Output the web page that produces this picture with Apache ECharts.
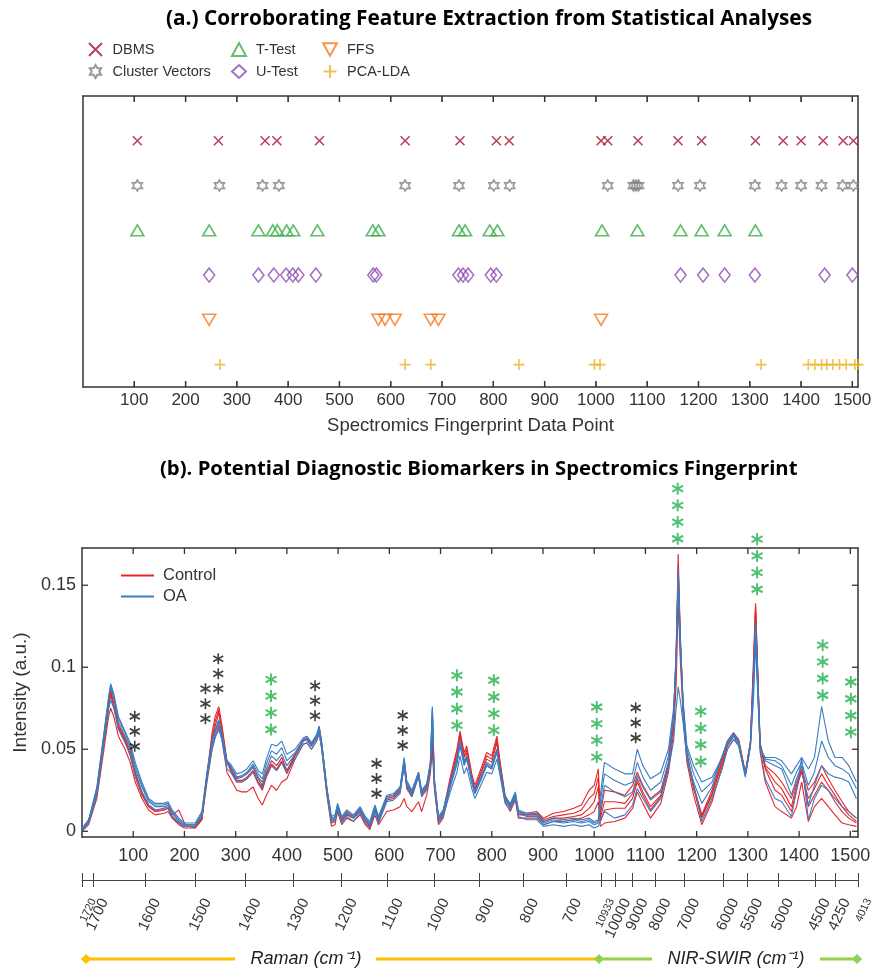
<!DOCTYPE html>
<html>
<head>
<meta charset="utf-8">
<script src="https://cdn.jsdelivr.net/npm/echarts@6/dist/echarts.min.js"></script>
<style>
  html, body { margin: 0; background: #fff; }
  #chart { width: 875px; height: 972px; }
</style>
</head>
<body>
<div id="chart"></div>
<script>
// ---- (a.) selected feature positions, one list per method ----
var dbmsX    = [106, 264, 355, 378, 461, 628, 735, 806, 831, 1010, 1023, 1082, 1160, 1206, 1311, 1365, 1400, 1443, 1482, 1502];
var clusterX = [106, 266, 350, 382, 628, 733, 801, 832, 1023, 1073, 1078, 1083, 1160, 1203, 1310, 1362, 1400, 1440, 1481, 1502];
var tTestX   = [106, 246, 342, 370, 379, 397, 410, 457, 565, 576, 733, 745, 793, 808, 1012, 1081, 1165, 1206, 1251, 1311];
var uTestX   = [246, 342, 372, 396, 409, 420, 454, 566, 572, 732, 741, 751, 795, 806, 1165, 1209, 1251, 1310, 1446, 1500];
var ffsX     = [246, 576, 589, 608, 678, 693, 1010];
var pcaX     = [267, 628, 678, 850, 997, 1008, 1322, 1414, 1427, 1440, 1450, 1462, 1475, 1488, 1505, 1511];

// ---- (b.) spectra, intensity in 1e-3 a.u. ----
var specX = [
  0, 13, 29, 42, 52, 56, 62, 71, 84, 94,
  104, 117, 130, 143, 160, 168, 176, 189, 200, 208,
  221, 234, 244, 254, 260, 267, 273, 283, 290, 302,
  312, 322, 334, 344, 352, 360, 370, 380, 390, 400,
  416, 432, 439, 448, 458, 463, 468, 478, 487, 494,
  499, 507, 517, 530, 543, 553, 562, 572, 579, 595,
  608, 621, 629, 634, 644, 657, 663, 673, 680, 684,
  688, 696, 705, 719, 732, 738, 746, 751, 761, 767,
  780, 790, 800, 810, 816, 826, 836, 846, 852, 868,
  888, 901, 920, 940, 960, 975, 990, 1000, 1008, 1012,
  1020, 1040, 1060, 1075, 1084, 1095, 1110, 1130, 1145, 1155,
  1160, 1164, 1168, 1174, 1181, 1194, 1210, 1230, 1250, 1260,
  1272, 1282, 1295, 1305, 1311, 1315, 1319, 1324, 1334, 1353,
  1366, 1385, 1395, 1405, 1418, 1430, 1444, 1457, 1470, 1484,
  1497, 1512
];
var controlHigh = [
  1, 7, 24, 54, 78, 86, 78, 65, 57, 49,
  36, 24, 16, 13, 14, 15, 10, 13, 5, 3,
  2, 7, 35, 60, 70, 76, 65, 43, 39, 33,
  33, 35, 39, 32, 28, 36, 43, 40, 45, 37,
  47, 56, 57, 53, 58, 64, 54, 26, 7, 8,
  15, 8, 12, 9, 14, 8, 4, 14, 8, 21,
  22, 26, 43, 28, 23, 36, 24, 28, 40, 58,
  30, 8, 12, 33, 50, 61, 48, 52, 35, 28,
  39, 48, 46, 58, 43, 22, 16, 22, 12, 11,
  12, 8, 11, 12, 14, 16, 25, 28, 38, 10,
  25, 24, 22, 28, 36, 28, 20, 25, 42, 70,
  110, 169, 120, 75, 48, 28, 10, 25, 45, 55,
  60, 56, 36, 55, 105, 139, 100, 54, 40, 35,
  30, 20, 30, 38, 25, 30, 40, 32, 25, 18,
  12, 8
];
var controlMid2 = [
  1, 6, 24, 53, 77, 85, 77, 64, 56, 47,
  35, 23, 15, 12, 13, 14, 9, 5, 3, 3,
  3, 8, 34, 57, 67, 74, 63, 42, 38, 31,
  31, 33, 37, 30, 27, 35, 41, 38, 43, 36,
  46, 55, 56, 52, 57, 63, 53, 25, 6, 7,
  14, 7, 11, 8, 13, 7, 3, 13, 7, 20,
  21, 25, 41, 27, 22, 35, 23, 27, 39, 56,
  29, 7, 11, 31, 48, 60, 46, 50, 33, 26,
  37, 46, 44, 56, 41, 21, 15, 21, 11, 10,
  11, 7, 9, 10, 11, 13, 20, 23, 33, 8,
  18, 18, 17, 23, 32, 24, 15, 22, 41, 66,
  105, 158, 116, 73, 46, 27, 9, 23, 43, 53,
  59, 55, 35, 54, 100, 137, 99, 53, 39, 30,
  26, 15, 28, 36, 20, 26, 35, 28, 22, 15,
  10, 6
];
var controlMid = [
  1, 6, 23, 52, 75, 83, 76, 63, 55, 46,
  33, 22, 15, 12, 13, 14, 9, 5, 3, 3,
  3, 8, 33, 55, 64, 72, 62, 42, 37, 30,
  30, 32, 36, 29, 25, 33, 40, 37, 42, 35,
  46, 55, 56, 52, 57, 62, 52, 25, 5, 6,
  14, 6, 10, 8, 12, 6, 3, 13, 6, 19,
  20, 24, 40, 26, 21, 34, 22, 26, 38, 55,
  28, 6, 10, 30, 46, 58, 45, 48, 32, 25,
  36, 44, 42, 54, 40, 20, 14, 21, 10, 10,
  10, 6, 8, 8, 9, 10, 14, 18, 27, 6,
  13, 14, 14, 20, 30, 22, 13, 21, 40, 65,
  100, 162, 115, 72, 45, 26, 8, 22, 42, 52,
  58, 55, 35, 54, 98, 135, 98, 52, 38, 25,
  22, 12, 25, 38, 15, 22, 30, 25, 18, 12,
  8, 5
];
var controlLow = [
  0, 4, 20, 48, 70, 75, 70, 58, 50, 42,
  30, 20, 13, 10, 11, 12, 8, 4, 2, 2,
  2, 7, 30, 50, 58, 64, 56, 36, 32, 25,
  24, 24, 27, 20, 16, 22, 28, 25, 30, 32,
  44, 53, 54, 50, 55, 60, 50, 22, 3, 4,
  12, 4, 8, 6, 10, 4, 1, 10, 4, 12,
  13, 15, 20, 15, 12, 18, 12, 22, 35, 50,
  26, 4, 8, 27, 42, 54, 42, 45, 30, 23,
  33, 40, 38, 50, 37, 18, 12, 19, 8, 8,
  8, 4, 6, 6, 7, 8, 10, 12, 18, 3,
  5, 6, 8, 14, 24, 17, 8, 17, 36, 60,
  90, 140, 105, 68, 42, 22, 4, 18, 40, 50,
  56, 54, 34, 52, 90, 120, 90, 48, 30, 15,
  12, 8, 15, 30, 6, 15, 20, 15, 10, 5,
  4, 3
];
var oaHigh = [
  2, 7, 27, 58, 82, 90, 84, 70, 61, 54,
  42, 30, 20, 17, 17, 18, 13, 8, 5, 5,
  5, 12, 36, 55, 62, 68, 60, 43, 41, 35,
  36, 38, 43, 37, 35, 44, 53, 52, 55, 47,
  50, 57, 58, 54, 59, 64, 54, 27, 9, 10,
  17, 9, 13, 10, 15, 9, 6, 16, 9, 22,
  23, 27, 45, 31, 25, 36, 25, 29, 42, 76,
  32, 9, 13, 30, 44, 56, 43, 46, 32, 25,
  34, 42, 40, 50, 39, 21, 17, 24, 13, 11,
  11, 6, 8, 7, 8, 7, 8, 6, 7, 22,
  42, 38, 35, 35, 50, 40, 32, 36, 50, 75,
  105, 150, 110, 78, 52, 40, 30, 33, 45, 53,
  58, 52, 33, 52, 90, 125, 90, 50, 45, 45,
  43, 35, 40, 45, 38, 45, 76, 55, 45, 45,
  40, 30
];
var oaMid2 = [
  1, 6, 26, 57, 81, 89, 82, 69, 60, 52,
  40, 28, 19, 16, 16, 17, 12, 7, 4, 4,
  4, 11, 35, 54, 61, 67, 59, 42, 40, 33,
  34, 36, 41, 35, 32, 41, 49, 47, 51, 43,
  48, 56, 57, 53, 58, 63, 53, 26, 8, 9,
  16, 8, 12, 9, 14, 8, 5, 15, 8, 21,
  22, 26, 44, 30, 24, 35, 24, 28, 41, 75,
  31, 8, 12, 28, 42, 54, 41, 45, 31, 24,
  33, 41, 39, 49, 38, 20, 16, 23, 12, 10,
  10, 5, 7, 6, 7, 6, 7, 5, 6, 18,
  35, 31, 28, 30, 42, 33, 25, 30, 46, 72,
  108, 155, 115, 75, 50, 35, 24, 30, 46, 54,
  59, 54, 34, 53, 92, 126, 92, 51, 44, 43,
  40, 28, 36, 42, 28, 36, 55, 45, 40, 38,
  35, 26
];
var oaMid = [
  1, 6, 25, 56, 80, 88, 81, 67, 58, 51,
  38, 27, 18, 15, 15, 16, 11, 6, 4, 4,
  4, 10, 34, 53, 60, 66, 58, 41, 39, 32,
  33, 35, 40, 33, 30, 38, 46, 43, 47, 40,
  47, 55, 56, 52, 57, 62, 52, 25, 7, 8,
  16, 7, 11, 8, 13, 7, 4, 14, 7, 20,
  21, 25, 43, 29, 23, 35, 23, 27, 40, 74,
  30, 7, 11, 27, 41, 52, 40, 44, 30, 23,
  32, 40, 38, 48, 37, 19, 15, 22, 11, 9,
  9, 4, 6, 5, 6, 5, 6, 4, 5, 14,
  28, 24, 21, 24, 34, 27, 19, 24, 42, 68,
  110, 160, 120, 72, 46, 30, 17, 27, 46, 55,
  60, 55, 35, 54, 95, 128, 95, 52, 43, 40,
  38, 22, 32, 40, 16, 28, 40, 35, 33, 32,
  30, 20
];
var oaLow = [
  0, 5, 22, 52, 75, 80, 75, 62, 54, 47,
  34, 24, 16, 13, 13, 14, 9, 5, 3, 3,
  3, 9, 32, 50, 57, 62, 56, 38, 36, 30,
  30, 32, 37, 30, 26, 34, 40, 37, 42, 36,
  44, 53, 54, 50, 55, 60, 50, 23, 5, 6,
  14, 5, 9, 6, 11, 5, 2, 12, 5, 18,
  19, 23, 40, 27, 21, 33, 21, 25, 38, 70,
  28, 5, 9, 24, 36, 46, 35, 39, 26, 20,
  29, 36, 35, 44, 34, 17, 13, 20, 9, 7,
  7, 3, 4, 3, 4, 3, 4, 2, 3, 6,
  12, 8, 10, 16, 26, 20, 12, 20, 38, 55,
  75, 88, 80, 65, 44, 28, 6, 20, 38, 50,
  56, 52, 35, 52, 80, 115, 85, 50, 32, 20,
  18, 9, 25, 45, 7, 20, 28, 25, 20, 15,
  12, 8
];

// significance asterisks: centre of each column, number of stars (4 = green)
var starX     = [103, 241, 266, 369, 455, 575, 626, 732, 804, 1005, 1081, 1163, 1208, 1318, 1446, 1501];
var starY     = [0.0609, 0.0777, 0.0960, 0.0773, 0.0796, 0.0321, 0.0615, 0.0798, 0.0768, 0.0605, 0.0661, 0.1936, 0.0578, 0.1628, 0.0982, 0.0757];
var starCount = [3, 3, 3, 4, 3, 3, 3, 4, 4, 4, 3, 4, 4, 4, 4, 4];

// tick values of the two framed plots
var xTickVals = [100, 200, 300, 400, 500, 600, 700, 800, 900, 1000, 1100, 1200, 1300, 1400, 1500];
var yTicks = [0, 0.05, 0.1, 0.15];
var ROW_MIN = 0.5, ROW_MAX = 7;

// secondary wavenumber scale: data-point position and its label
var wnPos   = [1, 21, 123, 222, 319, 413, 507, 597, 687, 775, 861, 945, 1013, 1041, 1075, 1120, 1176, 1252, 1299, 1359, 1431, 1470, 1515];
var wnLabel = ['1720', '1700', '1600', '1500', '1400', '1300', '1200', '1100', '1000', '900', '800', '700',
               '10933', '10000', '9000', '8000', '7000', '6000', '5500', '5000', '4500', '4250', '4013'];
var wnSmall = ['1720', '10933', '4013'];

var chart = echarts.init(document.getElementById('chart'));

var FONT = 'Liberation Sans';
var TXT = '#333';
var RED = '#e4262b';
var BLUE = '#3a7dc0';

function rowData(xs, row) {
  return xs.map(function (x) { return [x, row]; });
}
function spec(arr) {
  return specX.map(function (x, i) { return [x, arr[i] / 1000]; });
}
// labels are split over two axes (alternating) so neighbours never collide
var wnEvenPos = wnPos.filter(function (p, i) { return i % 2 === 0; });
var wnOddPos = wnPos.filter(function (p, i) { return i % 2 === 1; });
function wnText(v) {
  for (var i = 0; i < wnPos.length; i++) {
    if (Math.abs(wnPos[i] - v) < 0.01) {
      return (wnSmall.indexOf(wnLabel[i]) >= 0 ? '{s|' : '{m|') + wnLabel[i] + '}';
    }
  }
  return '';
}
function wnLabelAxis(positions) {
  return { gridIndex: 2, type: 'value', position: 'bottom', min: 0, max: 1515,
    axisLine: { show: false, onZero: false }, splitLine: { show: false }, axisTick: { show: false },
    axisLabel: { customValues: positions, rotate: 65, margin: 14, verticalAlign: 'top', color: TXT,
      showMinLabel: true, showMaxLabel: true, formatter: wnText,
      rich: { m: { fontSize: 15, lineHeight: 26, color: TXT }, s: { fontSize: 11, lineHeight: 24, color: TXT } } } };
}

var hexagram = 'path://M10,0L12.89,5L18.66,5L15.77,10L18.66,15L12.89,15L10,20L7.11,15L1.34,15L4.23,10L1.34,5L7.11,5Z';
var crossPath = 'path://M0,0L10,10M10,0L0,10';
var plusPath = 'path://M5,0L5,10M0,5L10,5';
var downTri = 'path://M0,0L10,0L5,9Z';
var asterisk = 'path://M0,-10L0,10M-8.66,-5L8.66,5M-8.66,5L8.66,-5';

function marker(name, xs, row, symbol, size, color) {
  return {
    name: name, type: 'scatter', xAxisIndex: 0, yAxisIndex: 0,
    data: rowData(xs, row), symbol: symbol, symbolSize: size,
    itemStyle: { color: 'transparent', borderColor: color, borderWidth: 1.6 },
    silent: true
  };
}
function specLine(name, arr, color) {
  return {
    name: name, type: 'line', xAxisIndex: 2, yAxisIndex: 2,
    data: spec(arr), showSymbol: false, symbol: 'none',
    lineStyle: { color: color, width: 1.1 }, itemStyle: { color: color },
    silent: true
  };
}
// inward frame ticks (both opposite edges), placed through the axis scales
function frameTicks(xIdx, yIdx, data, onX) {
  return {
    type: 'custom', xAxisIndex: xIdx, yAxisIndex: yIdx, silent: true, z: 6, data: data,
    renderItem: function (params, api) {
      var cs = params.coordSys;
      var pt = api.coord([api.value(0), api.value(1)]);
      var st = { stroke: '#333', lineWidth: 1.3 };
      var L = 6;
      if (onX) {
        return { type: 'group', children: [
          { type: 'line', shape: { x1: pt[0], y1: cs.y, x2: pt[0], y2: cs.y + L }, style: st },
          { type: 'line', shape: { x1: pt[0], y1: cs.y + cs.height, x2: pt[0], y2: cs.y + cs.height - L }, style: st }
        ] };
      }
      return { type: 'group', children: [
        { type: 'line', shape: { x1: cs.x, y1: pt[1], x2: cs.x + L, y2: pt[1] }, style: st },
        { type: 'line', shape: { x1: cs.x + cs.width, y1: pt[1], x2: cs.x + cs.width - L, y2: pt[1] }, style: st }
      ] };
    }
  };
}
// top plot: inward ticks as short bars sitting on the top and bottom edges
var rowTickData = xTickVals.map(function (v) { return { value: [v, ROW_MAX], symbolOffset: [0, 3] }; })
  .concat(xTickVals.map(function (v) { return { value: [v, ROW_MIN], symbolOffset: [0, -3] }; }));

var starData = [];
starX.forEach(function (x, g) {
  var n = starCount[g];
  var green = n === 4;
  var gap = green ? 16.7 : 15;
  for (var k = 0; k < n; k++) {
    starData.push({
      value: [x, starY[g]],
      symbolSize: green ? [11, 12] : [10, 11],
      symbolOffset: [0, (k - (n - 1) / 2) * gap],
      itemStyle: { borderColor: green ? '#22b14c' : '#111', borderWidth: green ? 2 : 1.7 }
    });
  }
});

var hundreds = function (v) { return (v > 0 && v % 100 === 0) ? String(v) : ''; };
function frameLine() { return { show: true, onZero: false, lineStyle: { color: '#333', width: 1.5 } }; }
var noTick = { show: false };
function titleRich(size) {
  return {
    n: { fontFamily: 'Open Sans', fontSize: size, color: '#000' },
    b: { fontFamily: 'Open Sans', fontSize: size, fontWeight: 'bold', color: '#000' }
  };
}
var legendBase = { orient: 'vertical', itemGap: 7, itemWidth: 14, itemHeight: 13, padding: 0,
  textStyle: { fontSize: 14.5, color: TXT, padding: [0, 0, 0, 5] }, selectedMode: false };

var option = {
  animation: false,
  backgroundColor: '#fff',
  textStyle: { fontFamily: FONT },
  title: [
    { left: 161, top: 4,
      text: '{n|(a.) }{b|Corroborating Feature Extraction from Statistical Analyses}',
      textStyle: { rich: titleRich(20.8) } },
    { left: 155, top: 454,
      text: '{n|(b). }{b|Potential Diagnostic Biomarkers in Spectromics Fingerprint}',
      textStyle: { rich: titleRich(20.3) } }
  ],
  legend: [
    Object.assign({ left: 88, top: 42, data: ['DBMS', 'Cluster Vectors'] }, legendBase),
    Object.assign({ left: 231, top: 42, data: ['T-Test', 'U-Test'] }, legendBase),
    Object.assign({ left: 322, top: 42, data: ['FFS', 'PCA-LDA'] }, legendBase),
    { left: 121, top: 567, orient: 'vertical', itemGap: 4, itemWidth: 33, itemHeight: 2, icon: 'rect', padding: 0,
      data: ['Control', 'OA'], textStyle: { fontSize: 16.5, color: TXT, padding: [0, 0, 0, 4] }, selectedMode: false }
  ],
  grid: [
    { left: 83, right: 17, top: 96, height: 291 },
    { left: 82, right: 17, top: 548, height: 289 },
    { left: 82, right: 17, top: 879, height: 1 },
    // overlay on the top plot, only used to place its edge ticks
    { left: 83, right: 17, top: 96, height: 291 }
  ],
  xAxis: [
    { gridIndex: 0, type: 'value', position: 'bottom', min: 0, max: 1511, interval: 100,
      axisLine: frameLine(), splitLine: { show: false }, axisTick: noTick,
      axisLabel: { formatter: hundreds, fontSize: 17, color: TXT, margin: 5 },
      name: 'Spectromics Fingerprint Data Point', nameLocation: 'middle', nameGap: 29,
      nameTextStyle: { fontSize: 18.5, color: TXT } },
    { gridIndex: 0, type: 'value', position: 'top', min: 0, max: 1511,
      axisLine: frameLine(), splitLine: { show: false }, axisTick: noTick, axisLabel: { show: false } },
    { gridIndex: 1, type: 'value', position: 'bottom', min: 0, max: 1515, interval: 100,
      axisLine: frameLine(), splitLine: { show: false }, axisTick: noTick,
      axisLabel: { formatter: hundreds, fontSize: 18, color: TXT, margin: 10 } },
    { gridIndex: 1, type: 'value', position: 'top', min: 0, max: 1515,
      axisLine: frameLine(), splitLine: { show: false }, axisTick: noTick, axisLabel: { show: false } },
    // wavenumber scale: line + outward ticks
    { gridIndex: 2, type: 'value', position: 'bottom', min: 0, max: 1515,
      axisLine: { show: true, onZero: false, lineStyle: { color: '#444', width: 1 } }, splitLine: { show: false },
      axisTick: { show: true, length: 7, customValues: wnPos, lineStyle: { color: '#444', width: 1 } },
      axisLabel: { show: false } },
    // wavenumber scale: inward ticks
    { gridIndex: 2, type: 'value', position: 'bottom', min: 0, max: 1515,
      axisLine: { show: false, onZero: false }, splitLine: { show: false },
      axisTick: { show: true, inside: true, length: 7, customValues: wnPos, lineStyle: { color: '#444', width: 1 } },
      axisLabel: { show: false } },
    wnLabelAxis(wnEvenPos),
    wnLabelAxis(wnOddPos),
    // overlay axis matching the top plot
    { gridIndex: 3, type: 'value', min: 0, max: 1511, show: false }
  ],
  yAxis: [
    { gridIndex: 0, type: 'value', position: 'left', min: ROW_MIN, max: ROW_MAX,
      axisLine: frameLine(), axisTick: noTick, axisLabel: { show: false }, splitLine: { show: false } },
    { gridIndex: 0, type: 'value', position: 'right', min: ROW_MIN, max: ROW_MAX,
      axisLine: frameLine(), axisTick: noTick, axisLabel: { show: false }, splitLine: { show: false } },
    { gridIndex: 1, type: 'value', position: 'left', min: -0.0035, max: 0.1727,
      axisLine: frameLine(), splitLine: { show: false }, axisTick: noTick,
      axisLabel: { customValues: yTicks, fontSize: 18, color: TXT, margin: 6 },
      name: 'Intensity (a.u.)', nameLocation: 'middle', nameGap: 40,
      nameTextStyle: { fontSize: 19, color: TXT } },
    { gridIndex: 1, type: 'value', position: 'right', min: -0.0035, max: 0.1727,
      axisLine: frameLine(), splitLine: { show: false }, axisTick: noTick, axisLabel: { show: false } },
    { gridIndex: 2, type: 'value', show: false, axisLine: { onZero: false } },
    { gridIndex: 3, type: 'value', min: ROW_MIN, max: ROW_MAX, show: false }
  ],
  series: [
    marker('DBMS', dbmsX, 6, crossPath, [9, 9], '#a2142f'),
    marker('Cluster Vectors', clusterX, 5, hexagram, [10, 11], '#7f7f7f'),
    marker('T-Test', tTestX, 4, 'triangle', [13, 11], '#3fae49'),
    marker('U-Test', uTestX, 3, 'diamond', [11, 14], '#8e4fb0'),
    marker('FFS', ffsX, 2, downTri, [13, 11], '#f5791f'),
    marker('PCA-LDA', pcaX, 1, plusPath, [11, 11], '#edb120'),
    { type: 'scatter', xAxisIndex: 0, yAxisIndex: 0, silent: true, clip: false, z: 6,
      symbol: 'rect', symbolSize: [1.3, 6], itemStyle: { color: '#333' }, data: rowTickData },
    frameTicks(8, 5, xTickVals.map(function (v) { return [v, 3]; }), true),
    specLine('Control', controlHigh, RED),
    specLine('Control', controlMid2, RED),
    specLine('Control', controlMid, RED),
    specLine('Control', controlLow, RED),
    specLine('OA', oaHigh, BLUE),
    specLine('OA', oaMid2, BLUE),
    specLine('OA', oaMid, BLUE),
    specLine('OA', oaLow, BLUE),
    { name: 'stars', type: 'scatter', xAxisIndex: 2, yAxisIndex: 2, clip: false, silent: true,
      symbol: asterisk, data: starData, itemStyle: { color: 'transparent' }, z: 5 },
    frameTicks(2, 2, xTickVals.map(function (v) { return [v, 0.05]; }), true),
    frameTicks(2, 2, yTicks.map(function (v) { return [700, v]; }), false)
  ],
  graphic: [
    { type: 'polygon', shape: { points: [[86, 954], [91, 959], [86, 964], [81, 959]] }, style: { fill: '#ffc000' } },
    { type: 'line', shape: { x1: 86, y1: 959, x2: 235, y2: 959 }, style: { stroke: '#ffc000', lineWidth: 3 } },
    { type: 'text', x: 306, y: 959, style: { text: 'Raman (cm\u207B\u00B9)', font: 'italic 18px "Liberation Sans"', fill: '#222', align: 'center', verticalAlign: 'middle' } },
    { type: 'line', shape: { x1: 376, y1: 959, x2: 597, y2: 959 }, style: { stroke: '#ffc000', lineWidth: 3 } },
    { type: 'line', shape: { x1: 599, y1: 959, x2: 652, y2: 959 }, style: { stroke: '#92d050', lineWidth: 3 } },
    { type: 'polygon', shape: { points: [[599, 954], [604, 959], [599, 964], [594, 959]] }, style: { fill: '#92d050' } },
    { type: 'text', x: 736, y: 959, style: { text: 'NIR-SWIR (cm\u207B\u00B9)', font: 'italic 18px "Liberation Sans"', fill: '#222', align: 'center', verticalAlign: 'middle' } },
    { type: 'line', shape: { x1: 820, y1: 959, x2: 857, y2: 959 }, style: { stroke: '#92d050', lineWidth: 3 } },
    { type: 'polygon', shape: { points: [[857, 954], [862, 959], [857, 964], [852, 959]] }, style: { fill: '#92d050' } }
  ]
};

chart.setOption(option);
</script>
</body>
</html>
